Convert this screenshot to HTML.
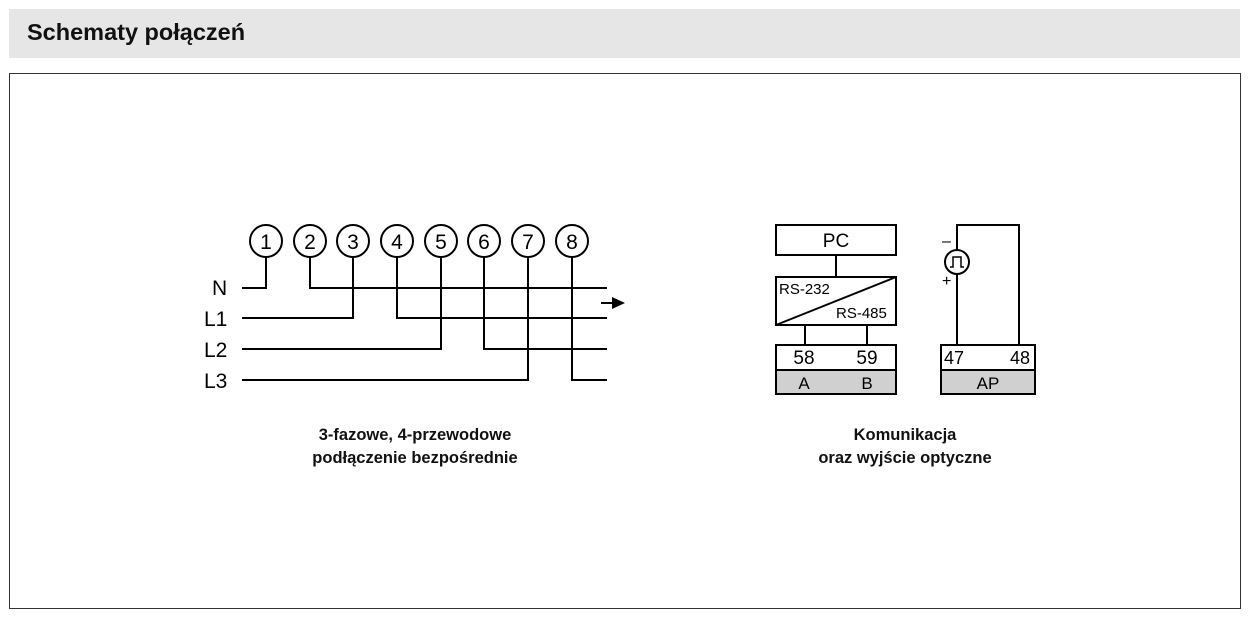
<!DOCTYPE html>
<html><head><meta charset="utf-8"><style>
body{margin:0;width:1249px;height:620px;background:#fff;font-family:"Liberation Sans",sans-serif;position:relative;overflow:hidden}
.hdr{position:absolute;left:9px;top:9px;width:1231px;height:49px;background:#e6e6e6}
.hdr span{position:absolute;left:18px;top:10px;font-size:23.5px;font-weight:bold;color:#111}
.box{position:absolute;left:9px;top:73px;width:1230px;height:534px;border:1px solid #333}
.cap{position:absolute;font-size:16.5px;font-weight:bold;text-align:center;line-height:23px;color:#111}
</style></head><body>
<div class="hdr"><span>Schematy połączeń</span></div>
<div class="box"></div>
<svg width="1249" height="620" style="position:absolute;left:0;top:0" font-family="Liberation Sans, sans-serif">
<g fill="none" stroke="#000" stroke-width="2">
<g fill="#fff">
<circle cx="266" cy="241" r="16"/><circle cx="310" cy="241" r="16"/><circle cx="353" cy="241" r="16"/><circle cx="397" cy="241" r="16"/>
<circle cx="441" cy="241" r="16"/><circle cx="484" cy="241" r="16"/><circle cx="528" cy="241" r="16"/><circle cx="572" cy="241" r="16"/>
</g>
<polyline points="242,288 266,288 266,257"/>
<polyline points="310,257 310,288 607,288"/>
<polyline points="242,318 353,318 353,257"/>
<polyline points="397,257 397,318 607,318"/>
<polyline points="242,349 441,349 441,257"/>
<polyline points="484,257 484,349 607,349"/>
<polyline points="242,380 528,380 528,257"/>
<polyline points="572,257 572,380 607,380"/>
<line x1="601" y1="303" x2="614" y2="303"/>
<rect x="776" y="225" width="120" height="30"/>
<line x1="836" y1="255" x2="836" y2="277"/>
<rect x="776" y="277" width="120" height="48"/>
<line x1="776" y1="325" x2="896" y2="277"/>
<line x1="805" y1="325" x2="805" y2="345"/><line x1="867" y1="325" x2="867" y2="345"/>
<rect x="776" y="345" width="120" height="49"/>
<rect x="941" y="345" width="94" height="49"/>
<polyline points="957,345 957,274"/><polyline points="957,250 957,225 1019,225 1019,345"/>
<circle cx="957" cy="262" r="12"/>
<polyline points="950,267 953,267 953,257 961,257 961,267 964,267" stroke-width="1.5"/>
</g>
<rect x="777" y="370" width="118" height="23" fill="#d0d0d0"/>
<rect x="942" y="370" width="92" height="23" fill="#d0d0d0"/>
<line x1="776" y1="370" x2="896" y2="370" stroke="#000" stroke-width="2"/>
<line x1="941" y1="370" x2="1035" y2="370" stroke="#000" stroke-width="2"/>
<polygon points="612,297 625,303 612,309" fill="#000"/>
<g font-size="21" text-anchor="middle" fill="#000">
<text x="266" y="249">1</text><text x="310" y="249">2</text><text x="353" y="249">3</text><text x="397" y="249">4</text>
<text x="441" y="249">5</text><text x="484" y="249">6</text><text x="528" y="249">7</text><text x="572" y="249">8</text>
</g>
<g font-size="21" fill="#000">
<text x="212" y="295">N</text><text x="204" y="326">L1</text><text x="204" y="357">L2</text><text x="204" y="388">L3</text>
</g>
<g fill="#000" font-size="19" text-anchor="middle">
<text x="836" y="247">PC</text>
<text x="804" y="364">58</text><text x="867" y="364">59</text>
<text x="804" y="389" font-size="17">A</text><text x="867" y="389" font-size="17">B</text>
<text x="988" y="389" font-size="17">AP</text>
</g>
<g fill="#000" font-size="18">
<text x="944" y="364">47</text><text x="1010" y="364">48</text>
</g>
<g fill="#000" font-size="15">
<text x="779" y="294">RS-232</text><text x="836" y="318">RS-485</text>
<text x="942" y="246" font-size="16">–</text><text x="942" y="286" font-size="16">+</text>
</g>
</svg>
<div class="cap" style="left:290px;top:424px;width:250px">3-fazowe, 4-przewodowe<br>podłączenie bezpośrednie</div>
<div class="cap" style="left:780px;top:424px;width:250px">Komunikacja<br>oraz wyjście optyczne</div>
</body></html>
